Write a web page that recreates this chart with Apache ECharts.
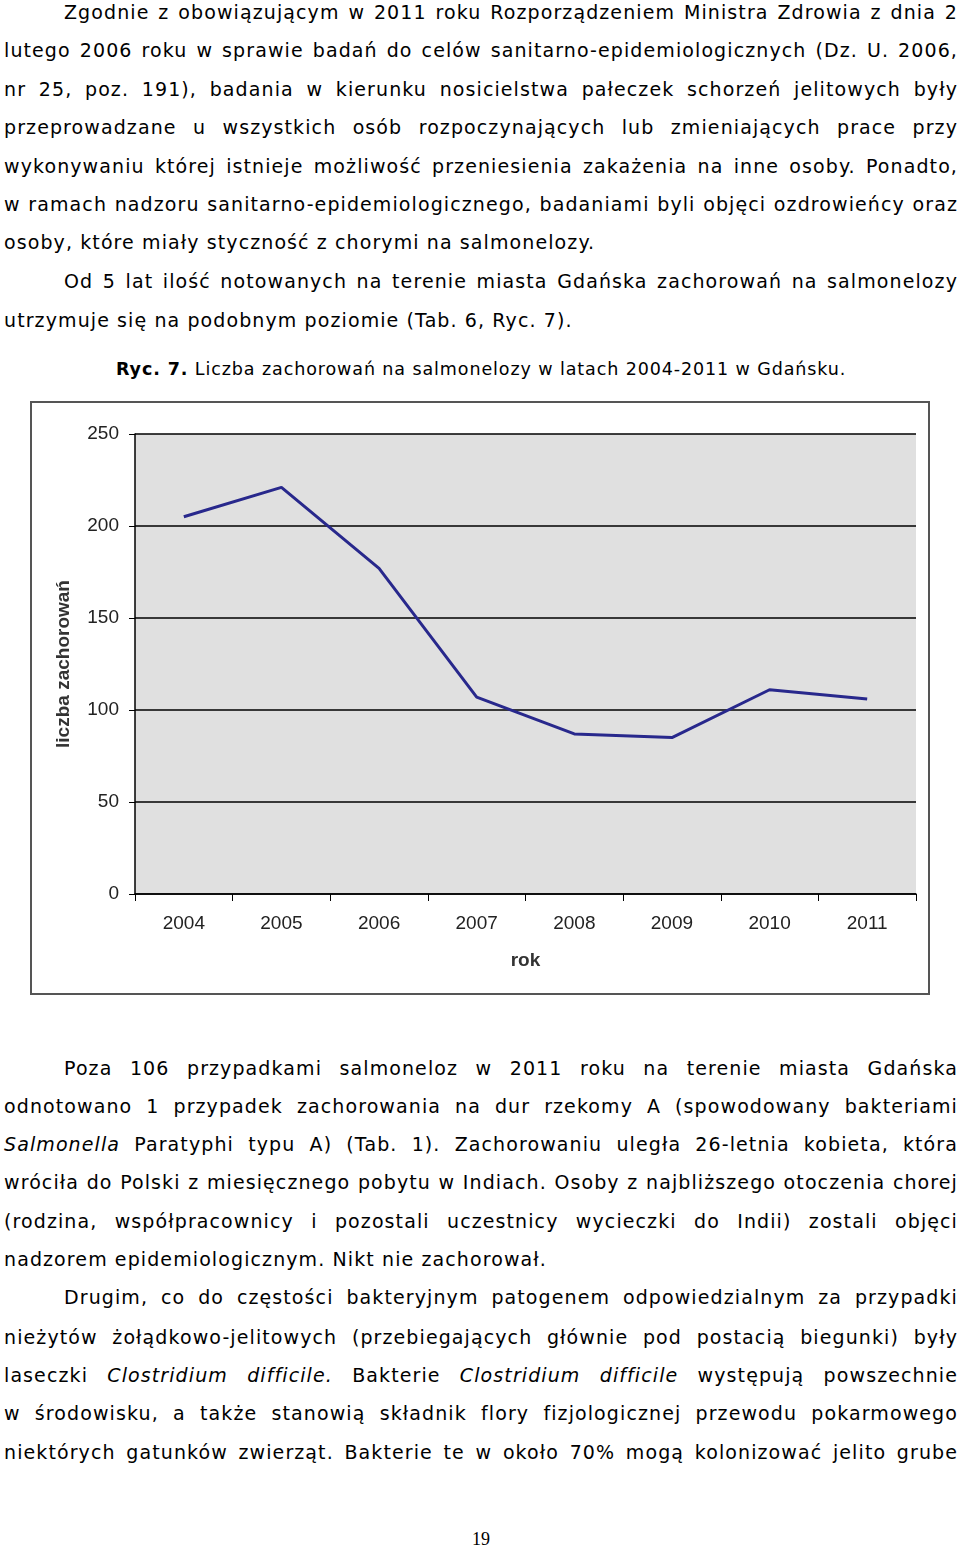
<!DOCTYPE html>
<html><head><meta charset="utf-8">
<script src="https://cdn.jsdelivr.net/npm/echarts@6/dist/echarts.min.js"></script>
<style>
body{margin:0;width:960px;height:1547px;position:relative;background:#fff;font-family:"DejaVu Sans",Verdana,sans-serif;color:#000;}
.l{position:absolute;font-size:19px;letter-spacing:1.1px;white-space:nowrap;line-height:24px;}
.j{text-align:justify;text-align-last:justify;white-space:normal;}
#chart{position:absolute;left:30px;top:401px;width:896px;height:590px;border:2px solid #555;}
</style></head><body>
<div class="l j" style="left:64px;width:894px;top:0px">Zgodnie z obowiązującym w 2011 roku Rozporządzeniem Ministra Zdrowia z dnia 2</div>
<div class="l j" style="left:4px;width:954px;top:38px">lutego 2006 roku w sprawie badań do celów sanitarno-epidemiologicznych (Dz. U. 2006,</div>
<div class="l j" style="left:4px;width:954px;top:77px">nr 25, poz. 191), badania w kierunku nosicielstwa pałeczek schorzeń jelitowych były</div>
<div class="l j" style="left:4px;width:954px;top:115px">przeprowadzane u wszystkich osób rozpoczynających lub zmieniających prace przy</div>
<div class="l j" style="left:4px;width:954px;top:154px">wykonywaniu której istnieje możliwość przeniesienia zakażenia na inne osoby. Ponadto,</div>
<div class="l j" style="left:4px;width:954px;top:192px">w ramach nadzoru sanitarno-epidemiologicznego, badaniami byli objęci ozdrowieńcy oraz</div>
<div class="l" style="left:4px;top:230px">osoby, które miały styczność z chorymi na salmonelozy.</div>
<div class="l j" style="left:64px;width:894px;top:269px">Od 5 lat ilość notowanych na terenie miasta Gdańska zachorowań na salmonelozy</div>
<div class="l" style="left:4px;top:308px">utrzymuje się na podobnym poziomie (Tab. 6, Ryc. 7).</div>
<div class="l" style="left:116px;top:357px;font-size:17.5px;letter-spacing:0.9px"><b>Ryc. 7.</b> Liczba zachorowań na salmonelozy w latach 2004-2011 w Gdańsku.</div>
<div id="chart"></div>
<div class="l j" style="left:64px;width:894px;top:1056px">Poza 106 przypadkami salmoneloz w 2011 roku na terenie miasta Gdańska</div>
<div class="l j" style="left:4px;width:954px;top:1094px">odnotowano 1 przypadek zachorowania na dur rzekomy A (spowodowany bakteriami</div>
<div class="l j" style="left:4px;width:954px;top:1132px"><i>Salmonella</i> Paratyphi typu A) (Tab. 1). Zachorowaniu uległa 26-letnia kobieta, która</div>
<div class="l j" style="left:4px;width:954px;top:1170px">wróciła do Polski z miesięcznego pobytu w Indiach. Osoby z najbliższego otoczenia chorej</div>
<div class="l j" style="left:4px;width:954px;top:1209px">(rodzina, współpracownicy i pozostali uczestnicy wycieczki do Indii) zostali objęci</div>
<div class="l" style="left:4px;top:1247px">nadzorem epidemiologicznym. Nikt nie zachorował.</div>
<div class="l j" style="left:64px;width:894px;top:1285px">Drugim, co do częstości bakteryjnym patogenem odpowiedzialnym za przypadki</div>
<div class="l j" style="left:4px;width:954px;top:1325px">nieżytów żołądkowo-jelitowych (przebiegających głównie pod postacią biegunki) były</div>
<div class="l j" style="left:4px;width:954px;top:1363px">laseczki <i>Clostridium difficile.</i> Bakterie <i>Clostridium difficile</i> występują powszechnie</div>
<div class="l j" style="left:4px;width:954px;top:1401px">w środowisku, a także stanowią składnik flory fizjologicznej przewodu pokarmowego</div>
<div class="l j" style="left:4px;width:954px;top:1440px">niektórych gatunków zwierząt. Bakterie te w około 70% mogą kolonizować jelito grube</div>
<div class="l" style="left:472px;top:1527px;font-family:'Liberation Serif',serif;font-size:18px;letter-spacing:0">19</div>
<script>
const years=['2004','2005','2006','2007','2008','2009','2010','2011'];
const cases=[205,221,177,107,87,85,111,106];
const yTicks=[0,50,100,150,200,250];
const chart=echarts.init(document.getElementById('chart'),null,{renderer:'canvas'});
const f={fontFamily:'Liberation Sans, Arial, sans-serif',fontSize:19,color:'#222'};
chart.setOption({
 animation:false,
 grid:{left:103,right:12,top:31,bottom:99,show:true,backgroundColor:'#e0e0e0',borderWidth:0},
 xAxis:{type:'category',data:years,boundaryGap:true,
  name:'rok',nameLocation:'middle',nameGap:57,nameTextStyle:Object.assign({},f,{fontWeight:'bold',color:'#333'}),
  axisLine:{lineStyle:{color:'#000',width:1.5}},axisTick:{show:true,length:7,lineStyle:{color:'#000'}},
  axisLabel:Object.assign({margin:20},f)},
 yAxis:{type:'value',min:yTicks[0],max:yTicks[yTicks.length-1],interval:50,
  name:'liczba zachorowań',nameLocation:'middle',nameGap:62,nameTextStyle:Object.assign({},f,{fontWeight:'bold',color:'#333'}),
  axisLine:{show:true,lineStyle:{color:'#000',width:1.5}},axisTick:{show:true,length:6,inside:false,lineStyle:{color:'#000'}},
  axisLabel:Object.assign({margin:16},f),
  splitLine:{lineStyle:{color:'#000',width:1.5}}},
 series:[{type:'line',data:cases,symbol:'none',lineStyle:{color:'#28288c',width:3}}]
});
</script>
</body></html>
